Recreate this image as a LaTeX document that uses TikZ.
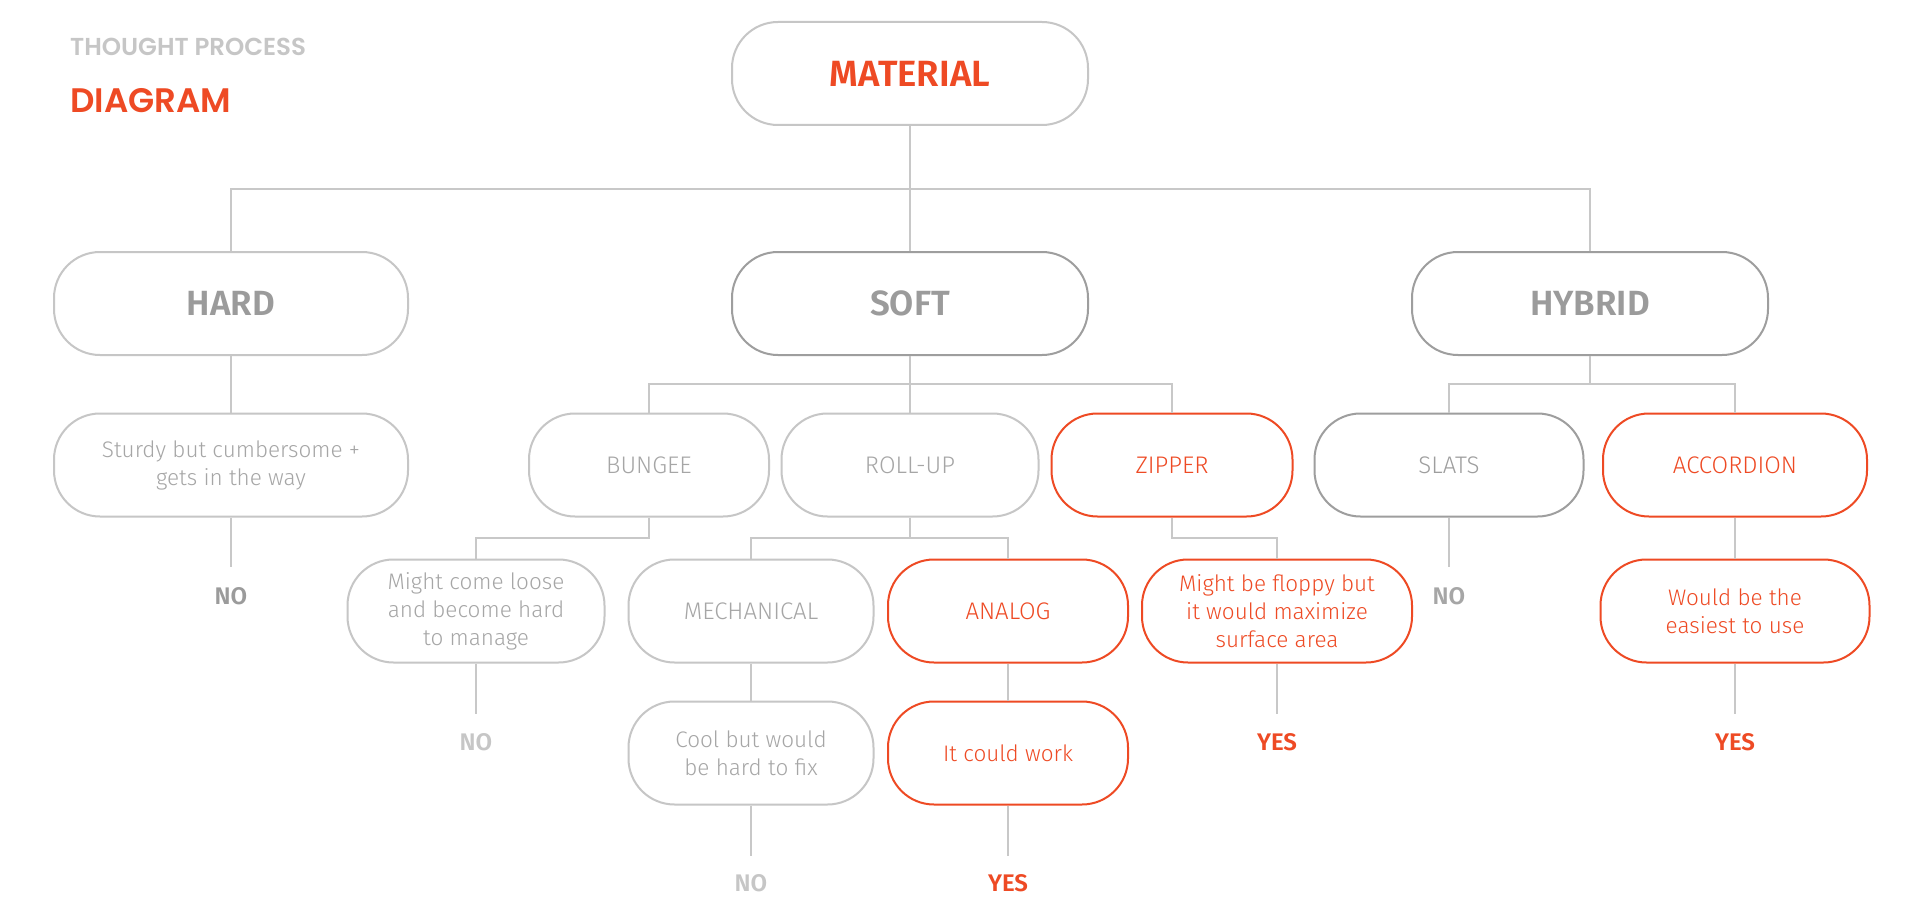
\documentclass[tikz,border=0pt]{standalone}
\usepackage{fontspec}
\setmainfont{Fira Sans}
\newfontfamily\lightf{Fira Sans Light}
\newfontfamily\boldf{Fira Sans SemiBold}
\newfontfamily\headf{Poppins SemiBold}
\definecolor{ored}{HTML}{EE4A24}
\definecolor{lgray}{HTML}{C6C6C6}
\definecolor{dgray}{HTML}{9E9E9E}
\definecolor{lnc}{HTML}{C8C8C8}
\definecolor{tbold}{HTML}{9B9B9B}
\definecolor{tlight}{HTML}{A6A6A6}
\tikzset{
  pill/.style={draw=lgray, line width=2pt, rounded corners=46pt, minimum height=103pt, inner sep=0pt, align=center, text=tlight, font=\lightf\fontsize{22.5}{28}\selectfont},
  lbl/.style={font=\lightf\fontsize{24}{28}\selectfont},
  pilld/.style={pill, draw=dgray},
  pillr/.style={pill, draw=ored, text=ored},
  bigt/.style={font=\boldf\fontsize{35}{40}\selectfont, text=tbold},
  term/.style={font=\boldf\fontsize{24}{28}\selectfont, inner sep=0pt},
  conn/.style={draw=lnc, line width=2pt}
}
\begin{document}
\begin{tikzpicture}[x=1pt,y=-1pt]
\useasboundingbox[fill=white] (0,0) rectangle (1920,923);
% header
\node[anchor=west, inner sep=0pt, text=lgray, font=\headf\fontsize{24.5}{28}\selectfont] (tp) at (70,47) {THOUGHT PROCESS};
\node[anchor=west, inner sep=0pt, text=ored, font=\headf\fontsize{34}{38}\selectfont] (dg) at (70,101) {DIAGRAM};
% row 0
\node[pill, minimum width=356pt, bigt, text=ored, font=\boldf\fontsize{36.5}{40}\selectfont] (mat) at (910,73.5) {MATERIAL};
% row 1
\node[pill, minimum width=354pt, bigt] (hard) at (231,303.5) {HARD};
\node[pilld, minimum width=356pt, bigt] (soft) at (910,303.5) {SOFT};
\node[pilld, minimum width=356pt, bigt] (hybrid) at (1590,303.5) {HYBRID};
% row 2
\node[pill, minimum width=354pt] (sturdy) at (231,465) {Sturdy but cumbersome +\\gets in the way};
\node[pill, lbl, minimum width=240pt] (bungee) at (649,465) {BUNGEE};
\node[pill, lbl, minimum width=257pt] (rollup) at (910,465) {ROLL-UP};
\node[pillr, lbl, minimum width=241pt] (zipper) at (1172,465) {ZIPPER};
\node[pilld, lbl, minimum width=269pt, text=dgray] (slats) at (1449,465) {SLATS};
\node[pillr, lbl, minimum width=264pt] (accordion) at (1735,465) {ACCORDION};
% row 3
\node[pill, minimum width=257pt] (loose) at (476,611) {Might come loose\\and become hard\\to manage};
\node[pill, lbl, minimum width=245pt] (mech) at (751,611) {MECHANICAL};
\node[pillr, lbl, minimum width=240pt] (analog) at (1008,611) {ANALOG};
\node[pillr, minimum width=270pt] (floppy) at (1277,611) {Might be floppy but\\it would maximize\\surface area};
\node[pillr, minimum width=269pt] (easy) at (1735,611) {Would be the\\easiest to use};
% row 4
\node[pill, minimum width=245pt] (cool) at (751,753) {Cool but would\\be hard to fix};
\node[pillr, minimum width=240pt] (work) at (1008,753) {It could work};
% terminal labels
\node[term, text=tbold] (no1) at (231,596) {NO};
\node[term, text=lgray] (no2) at (476,742) {NO};
\node[term, text=tlight] (no3) at (1449,596) {NO};
\node[term, text=lgray] (no4) at (751,883) {NO};
\node[term, text=ored] (yes1) at (1277,742) {YES};
\node[term, text=ored] (yes2) at (1735,742) {YES};
\node[term, text=ored] (yes3) at (1008,883) {YES};
% junctions and ends
\coordinate (j0) at (910,189);
\coordinate (j1) at (910,384);
\coordinate (j2) at (1590,384);
\coordinate (j3) at (649,537.5);
\coordinate (j4) at (910,537.5);
\coordinate (j5) at (1172,537.5);
\coordinate (e1) at (231,567);
\coordinate (e2) at (476,714);
\coordinate (e3) at (1449,567);
\coordinate (e4) at (751,856);
\coordinate (e5) at (1277,714);
\coordinate (e6) at (1735,714);
\coordinate (e7) at (1008,856);
% connectors
\draw[conn] (mat.south) -- (soft.north);
\draw[conn] (hard.north) |- (j0) -| (hybrid.north);
\draw[conn] (hard.south) -- (sturdy.north);
\draw[conn] (sturdy.south) -- (e1);
\draw[conn] (soft.south) -- (rollup.north);
\draw[conn] (bungee.north) |- (j1) -| (zipper.north);
\draw[conn] (hybrid.south) -- (j2);
\draw[conn] (slats.north) |- (j2) -| (accordion.north);
\draw[conn] (bungee.south) -- (j3) -| (loose.north);
\draw[conn] (rollup.south) -- (j4);
\draw[conn] (mech.north) |- (j4) -| (analog.north);
\draw[conn] (zipper.south) -- (j5) -| (floppy.north);
\draw[conn] (slats.south) -- (e3);
\draw[conn] (accordion.south) -- (easy.north);
\draw[conn] (loose.south) -- (e2);
\draw[conn] (floppy.south) -- (e5);
\draw[conn] (easy.south) -- (e6);
\draw[conn] (mech.south) -- (cool.north);
\draw[conn] (analog.south) -- (work.north);
\draw[conn] (cool.south) -- (e4);
\draw[conn] (work.south) -- (e7);
\end{tikzpicture}
\end{document}
